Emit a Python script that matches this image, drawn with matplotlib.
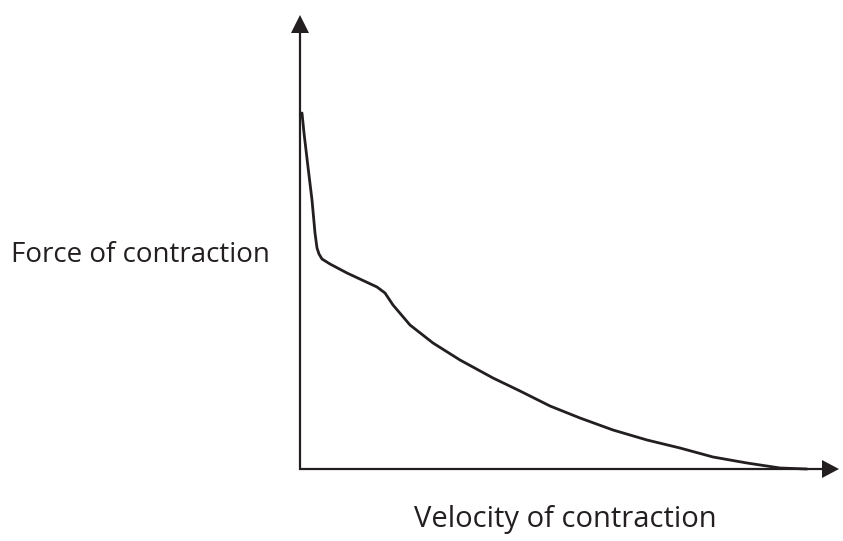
import matplotlib
matplotlib.use("Agg")
import matplotlib.pyplot as plt
from matplotlib.patches import Polygon

# Curve (arbitrary units)
velocity = [2, 4, 8, 12, 15, 17, 19, 22, 30, 47, 62, 77, 85, 93, 110, 133, 160,
            193, 220, 250, 280, 313, 347, 380, 413, 447, 480, 507]
force = [356, 336, 302, 269, 236, 221, 215, 210, 205, 196, 189, 182, 176, 164,
         144, 126, 109, 91, 78, 63, 51, 39, 29, 21, 12, 6, 1, 0]

x_label = "Velocity of contraction"
y_label = "Force of contraction"

color = "#231f20"
fig = plt.figure(figsize=(8.43, 5.41), dpi=100)
ax = fig.add_axes([0, 0, 1, 1])
ax.set_xlim(-300, 543)
ax.set_ylim(-72, 469)
ax.axis("off")

# axes with arrows
ax.plot([-1, 522], [0, 0], color=color, lw=1.6, solid_capstyle="butt")
ax.plot([0, 0], [-1, 437], color=color, lw=1.6, solid_capstyle="butt")
ax.add_patch(Polygon([[522, -9], [522, 9], [539, 0]], closed=True, color=color, lw=0))
ax.add_patch(Polygon([[-9, 436], [9, 436], [0, 454]], closed=True, color=color, lw=0))

ax.plot(velocity, force, color=color, lw=2.0, solid_joinstyle="round", solid_capstyle="round")

ax.text(-160, 214, y_label, ha="center", va="center", fontsize=20,
        family="Open Sans", color=color)
ax.text(265, -50, x_label, ha="center", va="center", fontsize=21,
        family="Open Sans", color=color)

fig.savefig("out.png", dpi=100)
